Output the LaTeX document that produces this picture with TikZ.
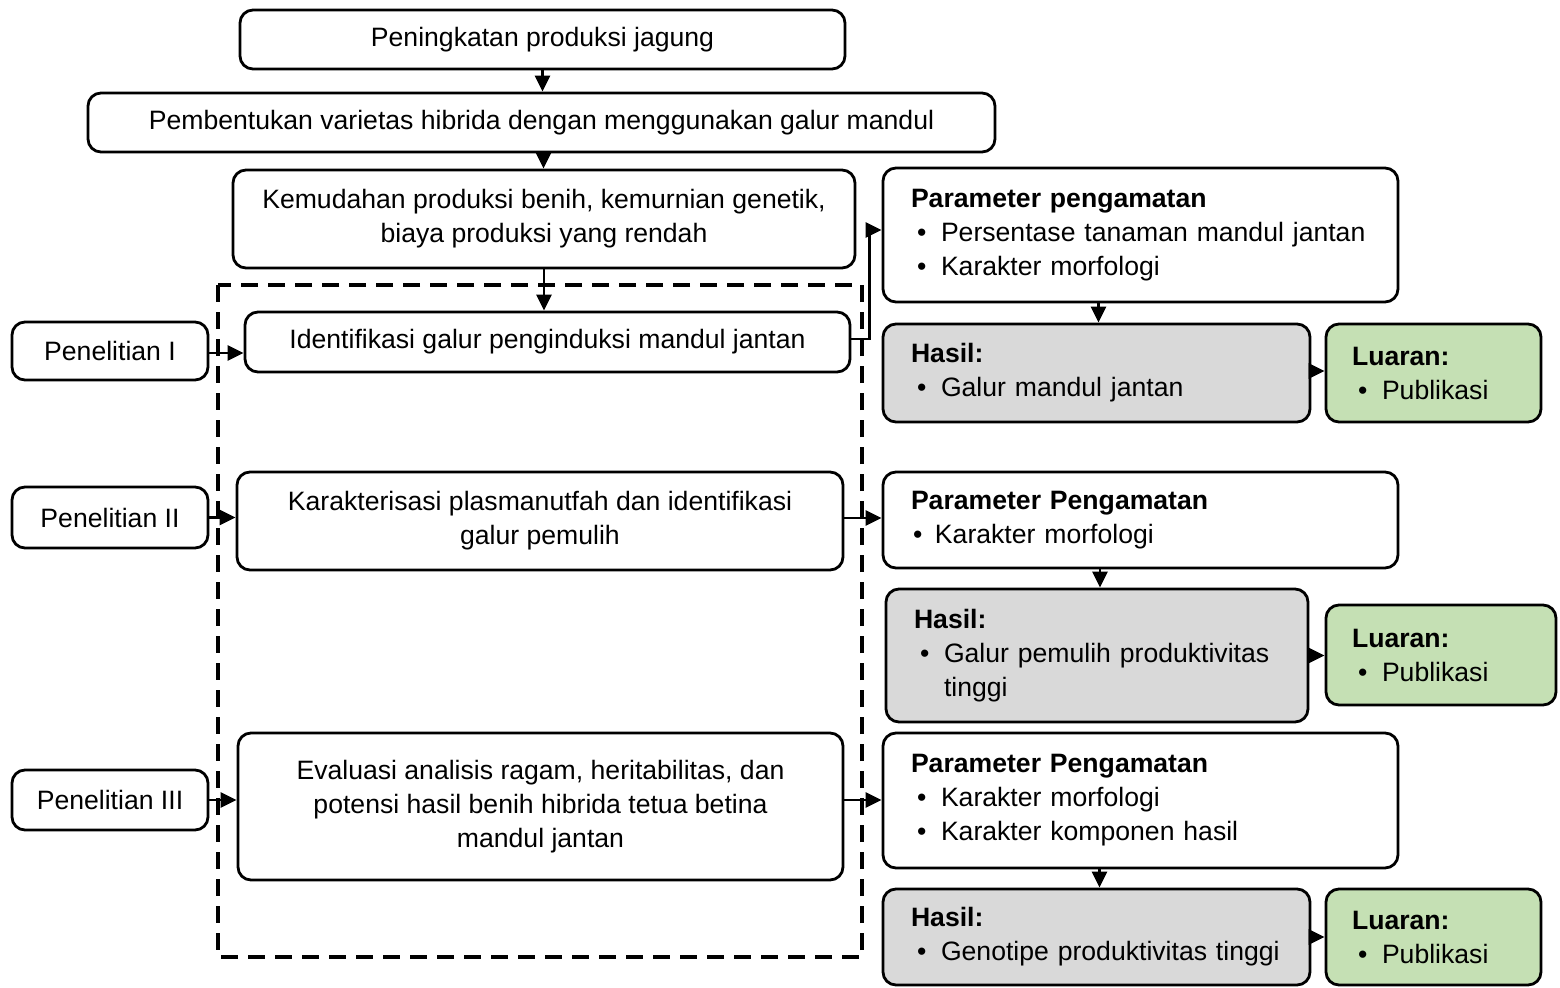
\documentclass[tikz,border=0pt]{standalone}
\usepackage{fontspec}
\setmainfont{Liberation Sans}
\usetikzlibrary{arrows.meta,calc}
\definecolor{hasilgray}{HTML}{D9D9D9}
\definecolor{luarangreen}{HTML}{C5E0B4}
\newcommand\fsz{\fontsize{13.3pt}{17pt}\selectfont}
\newcommand\bitem[1]{\mbox{\hspace*{3pt}\makebox[12pt][l]{•}#1}}
\tikzset{
  box/.style={draw=black, line width=1.4pt, rounded corners=6.5pt, fill=white,
    align=center, font=\fsz, inner sep=0pt},
  lbox/.style={box, align=left, inner xsep=14pt},
  arr/.style={line width=1.3pt, -{Triangle[length=8pt,width=7.5pt]}},
  dashbox/.style={draw=black, line width=1.7pt, dash pattern=on 8.5pt off 5pt}
}
\begin{document}
\begin{tikzpicture}[x=0.5pt, y=-0.5pt]
\useasboundingbox (0,0) rectangle (1560,987);

% dashed frame
\draw[dashbox] (218,285) rectangle (862,957);

% main column
\node[box, minimum width=302.5pt, minimum height=29.5pt] (top) at (542.5,39.5) {Peningkatan produksi jagung};
\node[box, minimum width=453.5pt, minimum height=29.5pt] (pemb) at (541.5,122.5) {Pembentukan varietas hibrida dengan menggunakan galur mandul};
\node[box, minimum width=311pt, minimum height=49pt] (kemud) at (544,219) {Kemudahan produksi benih, kemurnian genetik,\\biaya produksi yang rendah};
\node[box, minimum width=302.5pt, minimum height=30pt] (ident) at (547.5,342) {Identifikasi galur penginduksi mandul jantan};
\node[box, minimum width=303pt, minimum height=49pt] (karak) at (540,521) {Karakterisasi plasmanutfah dan identifikasi\\galur pemulih};
\node[box, minimum width=302.5pt, minimum height=73.5pt] (eval) at (540.5,806.5) {Evaluasi analisis ragam, heritabilitas, dan\\potensi hasil benih hibrida tetua betina\\mandul jantan};

% left labels
\node[box, minimum width=98pt, minimum height=29pt] (pen1) at (110,351) {Penelitian I};
\node[box, minimum width=98pt, minimum height=30.5pt] (pen2) at (110,517.5) {Penelitian II};
\node[box, minimum width=98pt, minimum height=30pt] (pen3) at (110,800) {Penelitian III};

% right column
\node[lbox, text width=229.5pt, minimum height=67pt] (param1) at (1140.5,235)
  {\textbf{Parameter pengamatan}\\\bitem{Persentase tanaman mandul jantan}\\\bitem{Karakter morfologi}};
\node[lbox, fill=hasilgray, text width=185.5pt, minimum height=49pt] (hasil1) at (1096.5,373)
  {\textbf{Hasil:}\\\bitem{Galur mandul jantan}};
\node[lbox, fill=luarangreen, inner xsep=13pt, text width=81.5pt, minimum height=49pt] (luaran1) at (1433.5,373)
  {\textbf{Luaran:}\\\bitem{Publikasi}};

\node[lbox, text width=229.5pt, minimum height=48pt] (param2) at (1140.5,520)
  {\textbf{Parameter Pengamatan}\\\mbox{\hspace*{1pt}\makebox[11pt][l]{•}Karakter morfologi}};
\node[lbox, fill=hasilgray, text width=183pt, minimum height=66.5pt] (hasil2) at (1097,655.5)
  {\textbf{Hasil:}\\\bitem{Galur pemulih produktivitas}\\\hspace*{15pt}tinggi};
\node[lbox, fill=luarangreen, inner xsep=13pt, text width=89pt, minimum height=50pt] (luaran2) at (1441,655)
  {\textbf{Luaran:}\\\bitem{Publikasi}};

\node[lbox, text width=229.5pt, minimum height=67.5pt] (param3) at (1140.5,800.5)
  {\textbf{Parameter Pengamatan}\\\bitem{Karakter morfologi}\\\bitem{Karakter komponen hasil}};
\node[lbox, fill=hasilgray, text width=185.5pt, minimum height=48pt] (hasil3) at (1096.5,937)
  {\textbf{Hasil:}\\\bitem{Genotipe produktivitas tinggi}};
\node[lbox, fill=luarangreen, inner xsep=13pt, text width=81.5pt, minimum height=48pt] (luaran3) at (1433.5,937)
  {\textbf{Luaran:}\\\bitem{Publikasi}};

% connectors
\draw[arr] (top.south) -- (top.south |- pemb.north);
\draw[arr] ([xshift=1pt]pemb.south) -- ([xshift=1pt]pemb.south |- kemud.north);
\draw[arr] (kemud.south) -- (kemud.south |- ident.north);
\draw[arr] ([yshift=-1pt]pen1.east) -- ([yshift=-1pt]pen1.east -| ident.west);
\draw[arr] ([yshift=1.5pt]ident.east) -- ++(18,0) |- ([yshift=2.5pt]param1.west);
\draw[arr] ([xshift=1pt]hasil1.north |- param1.south) -- ([xshift=1pt]hasil1.north);
\draw[arr] ([yshift=1pt]hasil1.east) -- ([yshift=1pt]hasil1.east -| luaran1.west);

\draw[arr] (pen2.east) -- (pen2.east -| karak.west);
\draw[arr] ([yshift=1.5pt]karak.east) -- ([yshift=1.5pt]karak.east -| param2.west);
\draw[arr] ([xshift=1.5pt]hasil2.north |- param2.south) -- ([xshift=1.5pt]hasil2.north);
\draw[arr] (hasil2.east) -- (hasil2.east -| luaran2.west);

\draw[arr] (pen3.east) -- (pen3.east -| eval.west);
\draw[arr] (eval.east |- pen3.east) -- (param3.west |- pen3.east);
\draw[arr] ([xshift=1.5pt]hasil3.north |- param3.south) -- ([xshift=1.5pt]hasil3.north);
\draw[arr] (hasil3.east) -- (hasil3.east -| luaran3.west);
\end{tikzpicture}
\end{document}
